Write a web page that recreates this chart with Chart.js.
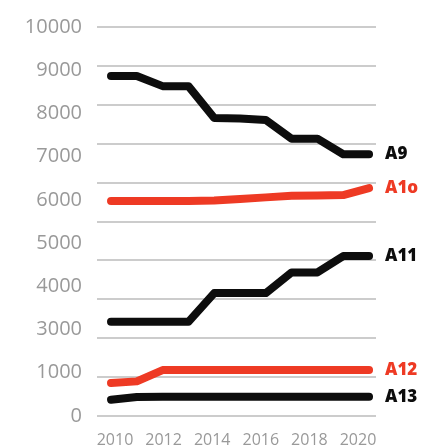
<!DOCTYPE html>
<html>
<head>
<meta charset="utf-8">
<script src="https://cdn.jsdelivr.net/npm/chart.js@4/dist/chart.umd.min.js"></script>
<style>
  html, body { margin: 0; padding: 0; background: #ffffff; overflow: hidden; }
  #wrap { position: relative; width: 423px; height: 460px; }
</style>
</head>
<body>
<div id="wrap"><canvas id="c"></canvas></div>
<script>
// ---- data ----
const years = [2010, 2011, 2012, 2013, 2014, 2015, 2016, 2017, 2018, 2019, 2020];
const a9  = [8740, 8740, 8480, 8480, 7660, 7650, 7610, 7130, 7130, 6730, 6730];
const a10 = [5530, 5530, 5530, 5530, 5540, 5580, 5620, 5660, 5670, 5680, 5860];
const a11 = [2420, 2420, 2420, 2420, 3160, 3160, 3160, 3690, 3690, 4110, 4110];
const a12 = [850, 890, 1180, 1180, 1180, 1180, 1180, 1180, 1180, 1180, 1180];
const a13 = [420, 490, 495, 495, 495, 495, 495, 495, 495, 495, 495];
const seriesNames = ['A9', 'A1o', 'A11', 'A12', 'A13'];
const yTickLabels = ['0', '1000', '3000', '4000', '5000', '6000', '7000', '8000', '9000', '10000'];
const xTickLabels = [2010, 2012, 2014, 2016, 2018, 2020];

const BLACK = '#0d0d0d';
const RED = '#ee3a24';

function pts(arr) { return years.map((y, i) => ({ x: y, y: arr[i] })); }
function ds(label, arr, color) {
  return {
    label, data: pts(arr), borderColor: color, backgroundColor: color,
    borderWidth: 8, borderCapStyle: 'round', borderJoinStyle: 'round',
    pointRadius: 0, tension: 0, fill: false
  };
}

const endLabels = {
  id: 'endLabels',
  afterDatasetsDraw(chart) {
    const ctx = chart.ctx;
    ctx.save();
    ctx.font = '800 17px "Open Sans", "Liberation Sans", sans-serif';
    ctx.textBaseline = 'middle';
    ctx.textAlign = 'left';
    chart.data.datasets.forEach((d, i) => {
      const meta = chart.getDatasetMeta(i);
      const p = meta.data[meta.data.length - 1];
      ctx.fillStyle = d.borderColor;
      ctx.fillText(d.label, p.x + 16, p.y);
    });
    ctx.restore();
  }
};

new Chart(document.getElementById('c'), {
  type: 'line',
  data: {
    datasets: [
      ds(seriesNames[0], a9, BLACK),
      ds(seriesNames[1], a10, RED),
      ds(seriesNames[2], a11, BLACK),
      ds(seriesNames[3], a12, RED),
      ds(seriesNames[4], a13, BLACK)
    ]
  },
  options: {
    responsive: true,
    maintainAspectRatio: false,
    animation: false,
    layout: { padding: { left: 0, right: 47, top: 22, bottom: 0 } },
    plugins: { legend: { display: false }, tooltip: { enabled: false } },
    scales: {
      x: {
        type: 'linear', min: 2009.457, max: 2020.27, display: false
      },
      xl: {
        type: 'linear', position: 'bottom', min: 2009.259, max: 2020.741,
        grid: { display: false, drawTicks: false },
        border: { display: false },
        afterBuildTicks: (s) => { s.ticks = xTickLabels.map(v => ({ value: v })); },
        afterFit: (s) => { s.height = 44; },
        ticks: {
          padding: 15, color: '#999999',
          font: { family: '"Open Sans", sans-serif', size: 16 },
          callback: (v) => String(v)
        }
      },
      y: {
        type: 'linear', position: 'left', min: 0, max: 10000,
        grid: { color: '#cccccc', lineWidth: 2, drawTicks: false },
        border: { display: false },
        ticks: { display: false, stepSize: 1000 },
        afterFit: (s) => { s.width = 0; }
      },
      yl: {
        type: 'linear', position: 'left', min: 0, max: 9,
        grid: { display: false, drawTicks: false },
        border: { display: false },
        afterBuildTicks: (s) => { s.ticks = yTickLabels.map((_, i) => ({ value: i })); },
        afterFit: (s) => { s.width = 97; },
        ticks: {
          padding: 15, color: '#999999',
          font: { family: '"Open Sans", sans-serif', size: 20 },
          callback: (v) => yTickLabels[v]
        }
      }
    }
  },
  plugins: [endLabels]
});
</script>
</body>
</html>
